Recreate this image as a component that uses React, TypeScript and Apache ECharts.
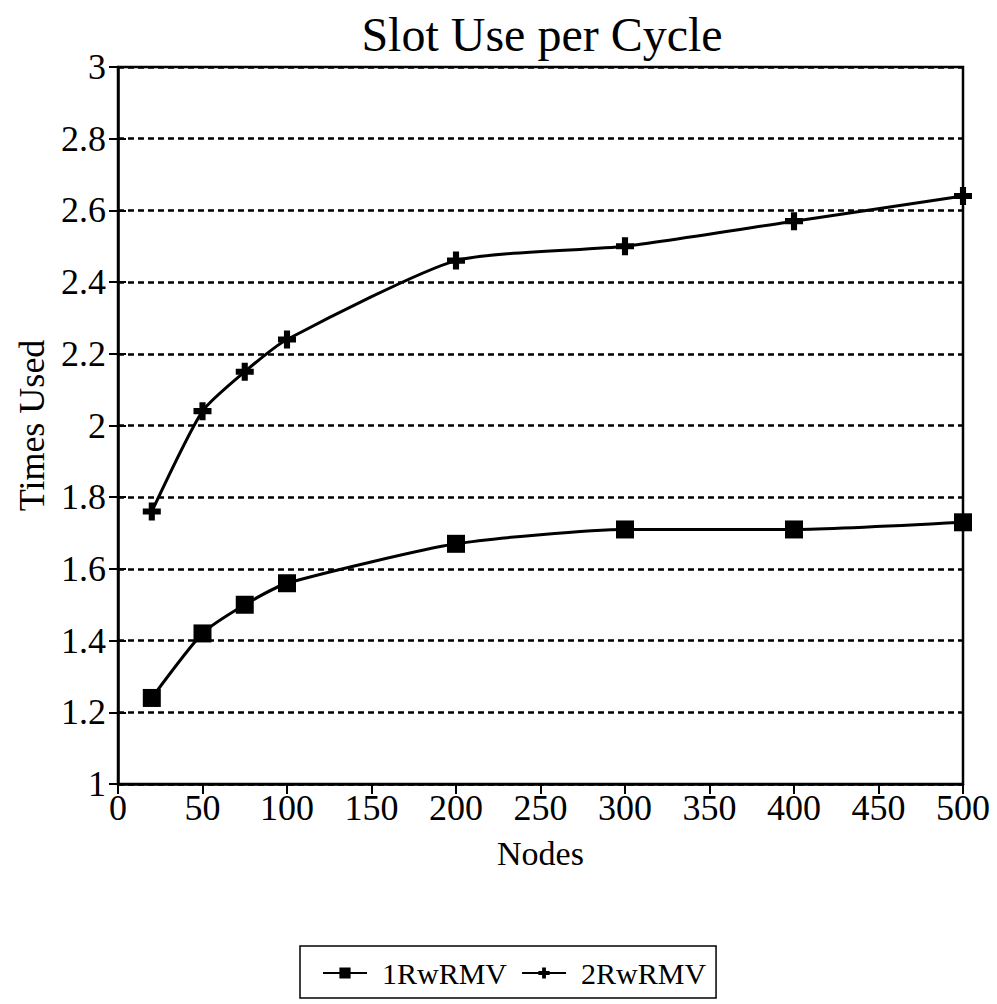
import React, { useEffect, useRef } from "react";
import * as echarts from "echarts";

const nodes = [20, 50, 75, 100, 200, 300, 400, 500];
const rwrmv1 = [1.24, 1.42, 1.5, 1.56, 1.67, 1.71, 1.71, 1.73];
const rwrmv2 = [1.76, 2.04, 2.15, 2.24, 2.46, 2.5, 2.57, 2.64];
const seriesNames = ["1RwRMV", "2RwRMV"];
const titleText = "Slot Use per Cycle";

const FONT = "Liberation Serif";
const PLUS = "path://M3.3,0H6.7V3.3H10V6.7H6.7V10H3.3V6.7H0V3.3H3.3Z";

export default function App() {
  const ref = useRef<HTMLDivElement>(null);
  useEffect(() => {
    if (!ref.current) return;
    const chart = echarts.init(ref.current, undefined, { renderer: "svg" });
    const toPairs = (ys: number[]) => nodes.map((x, i) => [x, ys[i]]);
    const axisLineStyle = { color: "#000", width: 2.5 };
    chart.setOption({
      animation: false,
      backgroundColor: "#fff",
      graphic: [
        {
          type: "text",
          x: 542,
          y: 34,
          style: {
            text: titleText,
            font: `48px ${FONT}`,
            fill: "#000",
            textAlign: "center",
            textVerticalAlign: "middle",
          },
        },
      ],
      grid: {
        left: 118,
        right: 34,
        top: 67,
        bottom: 220,
        show: true,
        borderColor: "#000",
        borderWidth: 2.5,
        backgroundColor: "transparent",
        outerBoundsMode: "none",
        containLabel: false,
      },
      xAxis: {
        type: "value",
        min: 0,
        max: 500,
        interval: 50,
        name: "Nodes",
        nameLocation: "middle",
        nameGap: 52,
        nameTextStyle: { fontFamily: FONT, fontSize: 34, color: "#000" },
        axisLine: { lineStyle: axisLineStyle },
        axisTick: { show: true, length: 10, lineStyle: { color: "#000", width: 2 } },
        axisLabel: { fontFamily: FONT, fontSize: 36, color: "#000", margin: 6 },
        splitLine: { show: false },
      },
      yAxis: [
        {
          type: "value",
          min: 1,
          max: 3,
          interval: 0.2,
          name: "Times Used",
          nameLocation: "middle",
          nameGap: 68,
          nameTextStyle: { fontFamily: FONT, fontSize: 36, color: "#000" },
          axisLine: { lineStyle: axisLineStyle },
          axisTick: { show: true, length: 9, lineStyle: { color: "#000", width: 2 } },
          axisLabel: { fontFamily: FONT, fontSize: 36, color: "#000", margin: 12 },
          splitLine: { show: true, lineStyle: { color: "#000", width: 2.5, type: [6, 4] } },
        },
        {
          type: "value",
          min: 1,
          max: 3,
          interval: 0.2,
          position: "left",
          axisLine: { show: false },
          axisTick: { show: true, inside: true, length: 8, lineStyle: { color: "#000", width: 2 } },
          axisLabel: { show: false },
          splitLine: { show: false },
        },
      ],
      legend: {
        data: seriesNames,
        left: 300,
        top: 946,
        orient: "horizontal",
        borderColor: "#000",
        borderWidth: 1.5,
        padding: [12, 10, 10, 22],
        itemGap: 14,
        itemWidth: 44,
        itemHeight: 14,
        textStyle: { fontFamily: FONT, fontSize: 30, color: "#000", padding: [0, 0, 0, 10] },
      },
      series: [
        {
          name: seriesNames[0],
          type: "line",
          data: toPairs(rwrmv1),
          smooth: 0.2,
          symbol: "rect",
          symbolSize: 18,
          lineStyle: { color: "#000", width: 3 },
          itemStyle: { color: "#000" },
        },
        {
          name: seriesNames[1],
          type: "line",
          data: toPairs(rwrmv2),
          smooth: 0.2,
          symbol: PLUS,
          symbolSize: 18,
          lineStyle: { color: "#000", width: 3 },
          itemStyle: { color: "#000" },
        },
      ],
    });
    return () => chart.dispose();
  }, []);
  return (
    <div
      ref={ref}
      style={{ position: "fixed", left: 0, top: 0, width: 997, height: 1004, background: "#fff" }}
    />
  );
}
